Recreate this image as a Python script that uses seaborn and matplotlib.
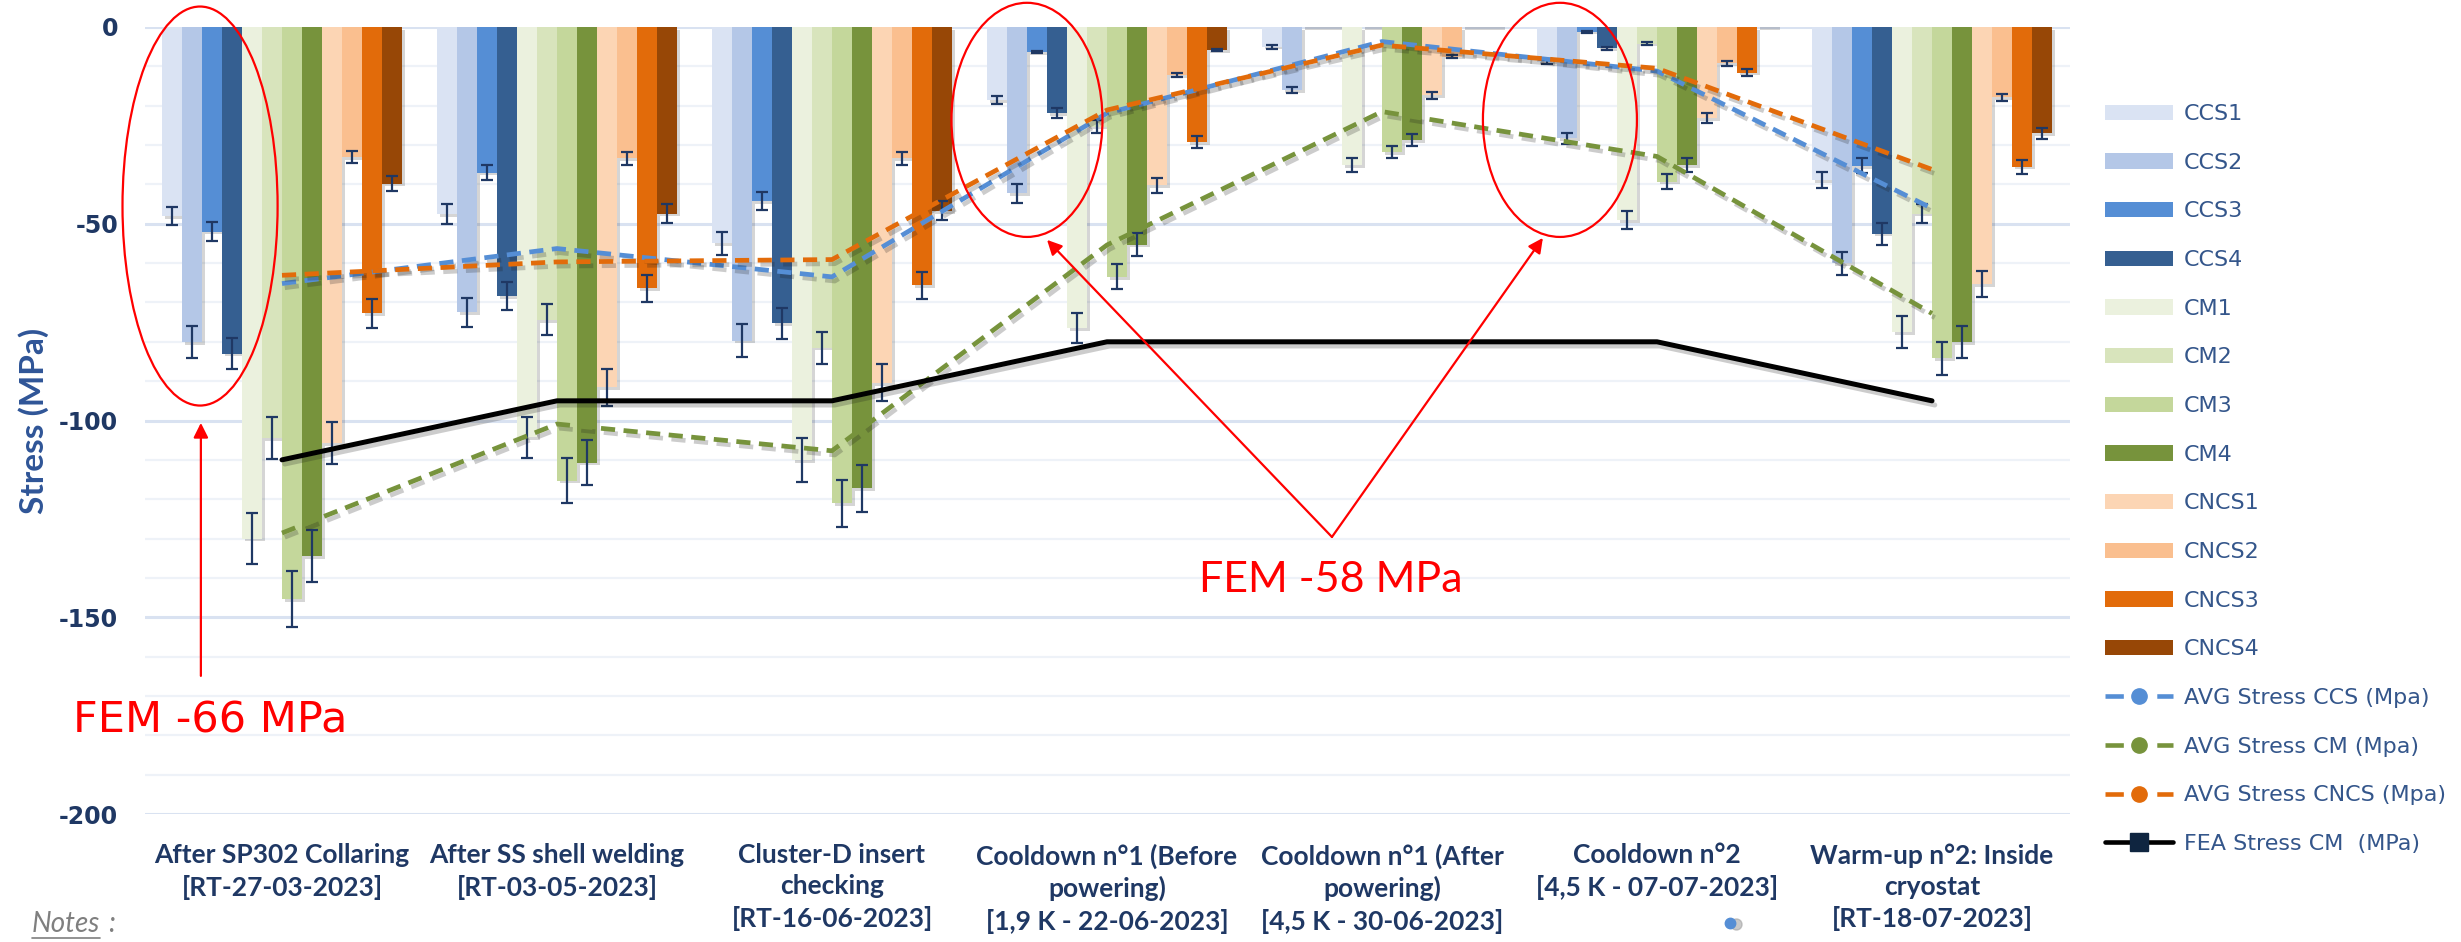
import numpy as np
import pandas as pd
import matplotlib
matplotlib.use("Agg")
import matplotlib.pyplot as plt
import matplotlib.patheffects as pe
from matplotlib.patches import Patch, Ellipse, FancyArrowPatch
from matplotlib.lines import Line2D
import seaborn as sns

# ---------------------------------------------------------------- data
categories = [
    "After SP302 Collaring\n[RT-27-03-2023]",
    "After SS shell welding\n[RT-03-05-2023]",
    "Cluster-D insert\nchecking\n[RT-16-06-2023]",
    "Cooldown n°1 (Before\npowering)\n[1,9 K - 22-06-2023]",
    "Cooldown n°1 (After\npowering)\n[4,5 K - 30-06-2023]",
    "Cooldown n°2\n[4,5 K - 07-07-2023]",
    "Warm-up n°2: Inside\ncryostat\n[RT-18-07-2023]",
]

gauges = ["CCS1", "CCS2", "CCS3", "CCS4", "CM1", "CM2", "CM3", "CM4",
          "CNCS1", "CNCS2", "CNCS3", "CNCS4"]

ccs1 = [-48.0, -47.5, -55.0, -18.6, -5.0, -8.8, -38.9]
ccs2 = [-80.0, -72.5, -79.7, -42.3, -16.0, -28.3, -60.1]
ccs3 = [-52.0, -37.0, -44.2, -6.3, 3.0, -1.2, -35.3]
ccs4 = [-83.0, -68.4, -75.3, -21.9, 3.0, -5.4, -52.5]
cm1 = [-130.0, -104.3, -110.0, -76.6, -35.1, -49.0, -77.5]
cm2 = [-104.5, -74.4, -81.5, -25.3, 10.0, -4.2, -47.4]
cm3 = [-145.4, -115.3, -121.0, -63.5, -31.7, -39.3, -84.2]
cm4 = [-134.5, -110.7, -117.2, -55.3, -28.7, -35.1, -80.0]
cncs1 = [-105.7, -91.6, -90.4, -40.2, -17.3, -23.2, -65.3]
cncs2 = [-33.1, -33.4, -33.4, -12.2, -7.5, -9.2, -17.9]
cncs3 = [-72.8, -66.4, -65.6, -29.2, 4.0, -11.6, -35.5]
cncs4 = [-39.8, -47.4, -46.7, -5.8, 4.0, 1.0, -27.0]

ccs1_err = [2.3, 2.5, 2.9, 1.0, 0.5, 0.7, 2.1]
ccs2_err = [4.0, 3.7, 4.2, 2.3, 0.8, 1.4, 3.0]
ccs3_err = [2.5, 2.0, 2.3, 0.3, 0.3, 0.3, 1.9]
ccs4_err = [4.0, 3.5, 3.9, 1.2, 0.3, 0.4, 2.8]
cm1_err = [6.4, 5.2, 5.6, 3.8, 1.8, 2.3, 4.0]
cm2_err = [5.3, 3.9, 4.1, 1.6, 0.5, 0.3, 2.3]
cm3_err = [7.2, 5.7, 6.0, 3.2, 1.5, 1.9, 4.2]
cm4_err = [6.6, 5.7, 6.0, 3.0, 1.5, 1.8, 4.0]
cncs1_err = [5.3, 4.7, 4.7, 1.9, 0.9, 1.3, 3.3]
cncs2_err = [1.5, 1.6, 1.7, 0.6, 0.4, 0.6, 0.8]
cncs3_err = [3.6, 3.5, 3.4, 1.5, 0.3, 0.8, 1.8]
cncs4_err = [2.0, 2.4, 2.4, 0.3, 0.3, 0.3, 1.4]

avg_ccs = [-65.2, -56.3, -63.5, -21.9, -3.7, -11.2, -46.1]
avg_cm = [-128.6, -100.9, -107.7, -55.4, -21.5, -32.9, -72.8]
avg_cncs = [-63.1, -59.7, -59.1, -21.1, -4.6, -10.5, -36.2]
fea_cm = [-110.0, -95.0, -95.0, -80.0, -80.0, -80.0, -95.0]

y_ticks = [0, -50, -100, -150, -200]
y_tick_labels = ["0", "-50", "-100", "-150", "-200"]

# ---------------------------------------------------------------- styling
gauge_colors = ["#DAE3F3", "#B4C7E7", "#558ED5", "#355F91",
                "#EBF1DE", "#D8E4BC", "#C4D79B", "#77933C",
                "#FCD5B4", "#FABF8F", "#E26B0A", "#974706"]
blue_line = "#558ED5"
green_line = "#77933C"
orange_line = "#E26B0A"
navy = "#1F3864"
red = "#FF0000"

sns.set_theme(style="white")
plt.rcParams["font.family"] = ["DejaVu Sans"]
plt.rcParams["axes.unicode_minus"] = False

values = [ccs1, ccs2, ccs3, ccs4, cm1, cm2, cm3, cm4, cncs1, cncs2, cncs3, cncs4]
errors = [ccs1_err, ccs2_err, ccs3_err, ccs4_err, cm1_err, cm2_err, cm3_err,
          cm4_err, cncs1_err, cncs2_err, cncs3_err, cncs4_err]

df = pd.DataFrame({
    "stage": np.repeat([categories], len(gauges), axis=0).ravel(),
    "gauge": np.repeat(gauges, len(categories)),
    "stress": np.concatenate(values),
})

W, H = 2461, 942
fig = plt.figure(figsize=(W / 100, H / 100), dpi=100)
ax = fig.add_axes([144.5 / W, 1 - 814 / H, 1925 / W, 787 / H])

sns.barplot(data=df, x="stage", y="stress", hue="gauge", order=categories,
            hue_order=gauges, palette=gauge_colors, saturation=1,
            width=0.873, errorbar=None, legend=False, ax=ax, zorder=2)

shadow = [pe.SimplePatchShadow(offset=(2, -2), shadow_rgbFace="k", alpha=0.18),
          pe.Normal()]
for cont, err in zip(ax.containers, errors):
    xs, ys = [], []
    for bar in cont:
        bar.set_edgecolor("none")
        bar.set_path_effects(shadow)
        xs.append(bar.get_x() + bar.get_width() / 2)
        ys.append(bar.get_y() + bar.get_height())
    ax.errorbar(xs, ys, yerr=err, fmt="none", ecolor=navy, elinewidth=1.6,
                capsize=4.2, capthick=1.6, zorder=4)

# average and FEA curves
xpos = np.arange(len(categories))
line_shadow = [pe.SimpleLineShadow(offset=(2, -3), shadow_color="k", alpha=0.22),
               pe.Normal()]
for series, col in [(avg_ccs, blue_line), (avg_cm, green_line),
                    (avg_cncs, orange_line)]:
    sns.lineplot(x=xpos, y=series, color=col, lw=3.4, ax=ax, zorder=5,
                 linestyle=(0, (3.0, 1.8)), sort=False,
                 path_effects=line_shadow)
sns.lineplot(x=xpos, y=fea_cm, color="black", lw=3.6, ax=ax, zorder=5,
             sort=False, solid_joinstyle="round", solid_capstyle="round",
             path_effects=line_shadow)

# ---------------------------------------------------------------- axes
ax.set_xlim(-0.5, len(categories) - 0.5)
ax.set_ylim(-200, 0)
ax.set_yticks(y_ticks)
ax.set_yticklabels(y_tick_labels)
ax.set_yticks(np.arange(-190, 0, 10), minor=True)
ax.grid(axis="y", which="major", color="#D9E2F1", lw=2.2, zorder=0)
ax.grid(axis="y", which="minor", color="#EEF2F8", lw=1.6, zorder=0)
ax.grid(axis="x", visible=False)
ax.set_axisbelow(True)
for s in ax.spines.values():
    s.set_visible(False)
ax.tick_params(axis="y", which="both", length=0, pad=19, labelsize=17,
               labelcolor=navy)
ax.tick_params(axis="x", length=0, pad=21, labelsize=19, labelcolor=navy)
for lbl in ax.get_yticklabels():
    lbl.set_fontweight("bold")
for lbl in ax.get_xticklabels():
    lbl.set_fontfamily("Lato")
    lbl.set_fontweight("bold")
    lbl.set_multialignment("center")
    lbl.set_linespacing(1.36)
ax.set_xlabel("")
ax.set_ylabel("Stress (MPa)", fontsize=24, fontweight="bold", color="#2F5597",
              family="Lato", labelpad=7)

# ---------------------------------------------------------------- legend
handles = [Patch(facecolor=c, edgecolor="none", label=g)
           for g, c in zip(gauges, gauge_colors)]
for col, name in [(blue_line, "AVG Stress CCS (Mpa)"),
                  (green_line, "AVG Stress CM (Mpa)"),
                  (orange_line, "AVG Stress CNCS (Mpa)")]:
    handles.append(Line2D([], [], color=col, lw=3.3, linestyle=(0, (4.0, 7.3)),
                          marker="o", markersize=11, markerfacecolor=col,
                          markeredgecolor=col, label=name))
handles.append(Line2D([], [], color="black", lw=3.3, marker="s", markersize=13,
                      markerfacecolor="#0F2540", markeredgecolor="#0F2540",
                      label="FEA Stress CM  (MPa)"))
fig.legend(handles=handles, loc="upper left",
           bbox_to_anchor=(2105 / W, 1 - 104 / H), frameon=False,
           fontsize=16, handlelength=3.06, handleheight=0.68,
           handletextpad=0.48, labelspacing=1.29, borderpad=0,
           borderaxespad=0, labelcolor="#34568B")

# ---------------------------------------------------------------- annotations
ann_kw = dict(fill=False, edgecolor=red, lw=1.6, clip_on=False, zorder=6)
ax.add_patch(Ellipse((-0.298, -45.5), 0.564, 101.4, **ann_kw))
ax.add_patch(Ellipse((2.709, -23.6), 0.549, 59.5, **ann_kw))
ax.add_patch(Ellipse((4.647, -23.6), 0.56, 59.5, **ann_kw))

arrow_kw = dict(arrowstyle="-|>", mutation_scale=22, color=red, lw=1.6,
                clip_on=False, zorder=6, shrinkA=0, shrinkB=0)
ax.add_patch(FancyArrowPatch((-0.295, -164.9), (-0.295, -100.6), **arrow_kw))
ax.add_patch(FancyArrowPatch((3.818, -129.6), (2.782, -54.1), **arrow_kw))
ax.add_patch(FancyArrowPatch((3.818, -129.6), (4.585, -53.6), **arrow_kw))

ax.text(-0.26, -179.2, "FEM -66 MPa", color=red, fontsize=31,
        ha="center", va="baseline", family="DejaVu Sans", clip_on=False)
ax.text(3.815, -143.6, "FEM -58 MPa", color=red, fontsize=31,
        ha="center", va="baseline", family="Lato", clip_on=False)

# notes footer
notes = fig.text(32 / W, 1 - 932 / H, "Notes", fontsize=20, color="#7F7F7F",
                 style="italic", family="Lato", va="baseline")
fig.canvas.draw()
bb = notes.get_window_extent()
fig.add_artist(Line2D([bb.x0 / W, bb.x1 / W], [(bb.y0 - 1) / H] * 2,
                      color="#7F7F7F", lw=1.2))
fig.text((bb.x1 + 8) / W, 1 - 932 / H, ":", fontsize=20, color="#7F7F7F",
         style="italic", family="Lato", va="baseline")

# small stray marker beneath the sixth stage label
fig.add_artist(Line2D([1736 / W], [1 - 924 / H], marker="o", markersize=8,
                      color="#9E9E9E", alpha=0.55, lw=0))
fig.add_artist(Line2D([1730 / W], [1 - 923 / H], marker="o", markersize=7.5,
                      color=blue_line, lw=0))

fig.savefig("out.png", dpi=100)
